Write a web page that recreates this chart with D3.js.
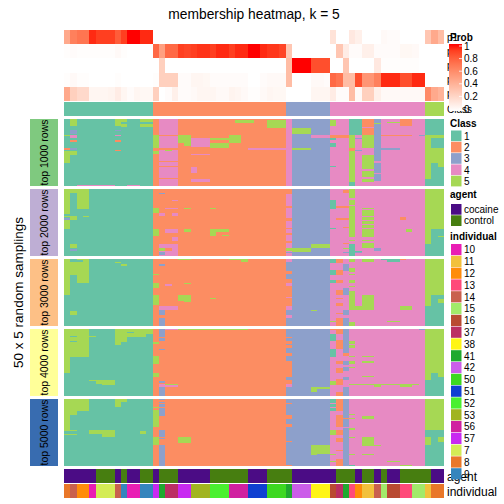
<!DOCTYPE html>
<html>
<head>
<meta charset="utf-8">
<script src="https://cdn.jsdelivr.net/npm/d3@7"></script>
<style>
body {margin: 0; background: #fff;}
text {font-family: "Liberation Sans", Arial, sans-serif; fill: #000;}
.cell {shape-rendering: crispEdges;}
</style>
</head>
<body>
<svg id="chart" width="504" height="504"></svg>
<script>
'use strict';

//Classes and their colours.
const classes = [1, 2, 3, 4, 5];
const classColors = ['#66C2A5', '#FC8D62', '#8DA0CB', '#E78AC3', '#A6D854'];

//Class of each of the 60 samples (columns, left to right).
const sampleClass = [
	1, 1, 1, 1, 1, 1, 1, 1, 1, 1, 1, 1, 1, 1,
	2, 2, 2, 2, 2, 2, 2, 2, 2, 2, 2, 2, 2, 2, 2, 2, 2, 2, 2, 2, 2,
	3, 3, 3, 3, 3, 3, 3,
	4, 4, 4, 4, 4, 4, 4, 4, 4, 4, 4, 4, 4, 4, 4,
	5, 5, 5
];

//Membership probability of each sample for class 1..5.
const prob1 = [
	0.45, 0.65, 0.7, 0.7, 0.95, 0.9, 0.9, 0.9, 0.8, 0.9, 1, 1, 0.95, 0.95,
	0, 0, 0, 0, 0, 0, 0, 0, 0, 0, 0, 0, 0, 0, 0, 0, 0, 0, 0, 0, 0,
	0, 0, 0, 0, 0, 0, 0,
	0.15, 0, 0, 0.12, 0.08, 0, 0, 0, 0.03, 0.02, 0.02, 0, 0, 0, 0,
	0.3, 0.45, 0.35
];
const prob2 = [
	0.01, 0.02, 0.01, 0.01, 0.01, 0.01, 0.01, 0.01, 0.03, 0.01, 0, 0, 0, 0,
	0.75, 0.5, 0.75, 0.75, 0.9, 0.88, 0.9, 0.93, 0.93, 0.9, 0.95, 0.95, 0.9, 0.95, 0.95, 1, 1, 0.95, 0.92, 0.92, 0.88,
	0.3, 0, 0, 0, 0, 0, 0,
	0, 0.3, 0.1, 0.02, 0.02, 0.08, 0.08, 0.02, 0.02, 0.02, 0.02, 0.04, 0.04, 0.03, 0,
	0, 0, 0
];
const prob3 = [
	0, 0, 0, 0, 0, 0, 0, 0, 0, 0, 0, 0, 0, 0,
	0, 0.25, 0, 0, 0, 0, 0, 0, 0, 0, 0, 0, 0, 0, 0, 0, 0, 0, 0, 0, 0,
	0.35, 1, 1, 1, 0.85, 0.85, 0.85,
	0, 0, 0.3, 0, 0, 0, 0, 0.12, 0.01, 0.01, 0.01, 0.01, 0.01, 0.01, 0,
	0, 0, 0
];
const prob4 = [
	0.01, 0.03, 0.01, 0.01, 0, 0, 0, 0, 0.01, 0, 0, 0, 0, 0,
	0.01, 0.25, 0.25, 0.25, 0.02, 0.02, 0.05, 0.05, 0.04, 0.02, 0.02, 0.02, 0.02, 0.02, 0.02, 0, 0, 0.02, 0.03, 0.03, 0.03,
	0.35, 0, 0, 0, 0.03, 0.03, 0.02,
	0.75, 0.7, 0.35, 0.35, 0.85, 0.55, 0.55, 0.65, 0.95, 0.95, 0.95, 0.85, 0.85, 0.95, 0.95,
	0, 0, 0
];
const prob5 = [
	0.45, 0.25, 0.2, 0.2, 0.05, 0.05, 0.05, 0.06, 0.1, 0.05, 0.02, 0.05, 0.04, 0.04,
	0.25, 0, 0.02, 0.08, 0.02, 0.02, 0.03, 0.05, 0.05, 0.05, 0.03, 0.03, 0.06, 0.05, 0.03, 0.01, 0.01, 0.03, 0.05, 0.04, 0.04,
	0, 0, 0, 0, 0.05, 0.05, 0.05,
	0.1, 0.02, 0.02, 0.35, 0.03, 0.25, 0.25, 0.08, 0.03, 0.03, 0.03, 0.03, 0.03, 0.03, 0.03,
	0.6, 0.45, 0.4
];
const probNames = ['p1', 'p2', 'p3', 'p4', 'p5'];

//Sample annotations.
const agentLevels = ['cocaine', 'control'];
const agentColors = ['#4B0C85', '#477E10'];
const agent = [
	'cocaine', 'cocaine', 'cocaine', 'cocaine', 'cocaine', 'control', 'control', 'control', 'cocaine', 'control',
	'cocaine', 'cocaine', 'control', 'control', 'cocaine', 'control', 'control', 'control', 'cocaine', 'cocaine',
	'cocaine', 'cocaine', 'cocaine', 'control', 'control', 'control', 'control', 'control', 'control', 'cocaine',
	'cocaine', 'cocaine', 'control', 'control', 'control', 'control', 'cocaine', 'cocaine', 'cocaine', 'cocaine',
	'cocaine', 'cocaine', 'cocaine', 'control', 'control', 'control', 'cocaine', 'control', 'control', 'cocaine',
	'control', 'cocaine', 'cocaine', 'control', 'control', 'control', 'control', 'control', 'cocaine', 'cocaine'
];
const individualLevels = ['10', '11', '12', '13', '14', '15', '16', '37', '38', '41',
	'42', '50', '51', '52', '53', '56', '57', '7', '8', '9'];
const individualColors = ['#E91EB4', '#F2C13C', '#FF8C0A', '#FF4A7A', '#C9604E', '#A2EA6A', '#B94A32', '#BB2F63', '#FFF515', '#1FA92F',
	'#CB5DE9', '#3DD821', '#0F40D1', '#4AF030', '#A1B421', '#D021A0', '#C829F1', '#D4EC55', '#E97729', '#3585BD'];
const individual = [
	'8', '14', '12', '12', '10', '7', '7', '7', '14', '9',
	'10', '10', '9', '9', '57', '41', '37', '37', '57', '57',
	'53', '53', '53', '52', '52', '52', '56', '56', '56', '51',
	'51', '51', '50', '50', '50', '41', '42', '42', '42', '38',
	'38', '38', '16', '37', '41', '13', '12', '11', '11', '14',
	'15', '16', '16', '13', '13', '15', '15', '11', '8', '8'
];

//Random samplings: 5 panels of 50 rows each.
//Each panel: the usual class of every column, then blocks [firstRow, lastRow, firstCol, lastCol, class] that differ.
const panelNames = ['top 1000 rows', 'top 2000 rows', 'top 3000 rows', 'top 4000 rows', 'top 5000 rows'];
const panelColors = ['#7FC97F', '#BEAED4', '#FDC086', '#FFFF99', '#386CB0'];
const panelBase = [
	'11111111111111 2 444 22222222222222222 4 333333 444 5 4 44 3 4444444 111',
	'11111111111111 2 222 22222222222222222 4 333333 444 5 4 44 4 4444444 555',
	'11111111111111 2 222 22222222222222222 2 333333 444 4 4 44 4 4444444 555',
	'11111111111111 2 222 22222222222222222 2 333333 444 4 4 44 4 4444444 555',
	'11111111111111 2 222 22222222222222222 3 333333 443 4 4 44 4 4444444 111'
];
const panel1 = [
	[12, 12, 0, 0, 5], [22, 22, 0, 0, 2], [24, 32, 0, 0, 5],
	[0, 4, 1, 1, 5], [8, 10, 1, 1, 3], [12, 13, 1, 1, 4], [16, 16, 1, 1, 2], [22, 22, 1, 1, 3], [24, 26, 1, 1, 5],
	[49, 49, 2, 7, 4],
	[0, 4, 8, 8, 5], [8, 8, 8, 8, 3], [12, 12, 8, 8, 4], [16, 16, 8, 8, 2], [23, 23, 8, 8, 2],
	[0, 1, 9, 9, 5], [4, 5, 9, 9, 5], [49, 49, 10, 11, 4], [0, 1, 12, 13, 5], [4, 5, 12, 13, 5],
	[12, 21, 14, 14, 5], [24, 25, 14, 14, 5],
	[12, 12, 15, 17, 2], [22, 22, 15, 17, 2], [31, 31, 15, 17, 2], [35, 35, 15, 17, 2], [44, 44, 15, 17, 2], [23, 23, 16, 16, 5],
	[12, 17, 18, 19, 5], [18, 19, 19, 19, 5],
	[14, 20, 20, 22, 4], [26, 26, 20, 22, 4], [36, 39, 20, 20, 4], [45, 46, 20, 22, 4],
	[14, 15, 23, 25, 5], [18, 21, 23, 25, 5],
	[12, 17, 26, 27, 5], [1, 2, 27, 29, 5], [1, 6, 32, 34, 5], [22, 22, 29, 34, 4],
	[7, 10, 36, 38, 5], [22, 22, 36, 38, 5], [12, 13, 39, 41, 4],
	[1, 4, 42, 42, 5], [12, 13, 42, 42, 2], [14, 15, 42, 42, 1], [18, 20, 42, 42, 1], [35, 35, 42, 42, 1],
	[12, 13, 43, 44, 2],
	[0, 11, 45, 46, 1], [22, 23, 45, 45, 2], [47, 49, 45, 45, 1],
	[14, 14, 46, 46, 3], [23, 23, 46, 46, 3],
	[0, 5, 47, 48, 2], [7, 11, 47, 48, 2], [12, 21, 47, 48, 5], [27, 36, 47, 48, 5], [39, 42, 47, 48, 5], [45, 46, 47, 48, 5],
	[3, 3, 49, 49, 5], [31, 32, 49, 49, 4], [40, 40, 49, 49, 4], [46, 49, 49, 49, 4],
	[0, 4, 53, 54, 2], [12, 12, 50, 54, 2], [22, 22, 50, 52, 3], [12, 12, 56, 56, 3], [2, 2, 51, 52, 5],
	[12, 44, 57, 57, 5], [12, 13, 58, 59, 5], [22, 32, 58, 59, 5], [33, 35, 59, 59, 5]
];
const panel2 = [
	[0, 18, 0, 0, 5], [20, 20, 0, 0, 5], [22, 22, 0, 0, 3], [23, 29, 0, 0, 5],
	[0, 2, 1, 1, 5], [20, 22, 1, 1, 5], [41, 43, 1, 1, 5], [45, 45, 1, 1, 3],
	[0, 14, 2, 3, 5], [20, 20, 3, 3, 5],
	[14, 17, 14, 14, 5], [30, 34, 14, 14, 5],
	[3, 3, 15, 15, 3], [18, 19, 15, 15, 4], [41, 49, 15, 17, 4], [44, 45, 15, 15, 5], [47, 48, 15, 15, 3], [44, 45, 16, 16, 2],
	[8, 8, 17, 17, 4], [14, 14, 16, 17, 4], [18, 19, 17, 17, 4], [30, 32, 16, 17, 4], [36, 38, 17, 17, 4],
	[14, 14, 19, 19, 5], [30, 31, 19, 19, 5], [14, 14, 23, 23, 5], [30, 31, 23, 25, 5], [32, 34, 23, 23, 5], [34, 34, 25, 25, 5],
	[0, 3, 35, 35, 2], [13, 13, 35, 35, 2], [22, 23, 35, 35, 2], [29, 29, 35, 35, 2], [33, 33, 35, 35, 2], [39, 39, 35, 35, 2],
	[44, 45, 35, 35, 5], [47, 47, 35, 35, 3],
	[44, 46, 36, 38, 5], [41, 43, 39, 41, 5],
	[8, 14, 42, 42, 1], [29, 29, 42, 42, 1],
	[1, 2, 44, 44, 2], [13, 13, 43, 44, 2], [22, 22, 43, 44, 2], [28, 28, 44, 44, 2], [40, 40, 44, 44, 2], [44, 44, 44, 44, 5], [47, 47, 44, 44, 3],
	[7, 7, 45, 45, 4], [12, 12, 45, 45, 4], [36, 40, 45, 45, 4], [41, 49, 45, 45, 1], [38, 38, 45, 45, 5],
	[46, 46, 46, 46, 1], [47, 47, 46, 46, 3],
	[14, 14, 47, 48, 5], [16, 19, 47, 48, 5], [21, 22, 47, 48, 5], [24, 25, 47, 48, 5], [27, 28, 47, 48, 5], [30, 35, 47, 48, 5],
	[38, 38, 47, 48, 5], [40, 40, 47, 48, 5], [41, 43, 47, 48, 5], [44, 45, 49, 49, 3],
	[21, 22, 53, 53, 2], [30, 31, 54, 54, 5],
	[30, 49, 58, 59, 1], [41, 49, 57, 57, 1], [35, 35, 59, 59, 5]
];
const panel3 = [
	[0, 26, 0, 0, 5], [2, 11, 1, 1, 5], [39, 41, 1, 1, 5], [0, 17, 2, 3, 5], [1, 1, 2, 2, 1],
	[2, 2, 8, 8, 5], [4, 4, 9, 9, 5],
	[11, 11, 14, 14, 5], [18, 21, 14, 14, 5], [27, 33, 14, 14, 5],
	[4, 4, 15, 15, 3], [38, 41, 15, 15, 3], [44, 49, 15, 15, 3], [35, 37, 15, 17, 4], [19, 19, 16, 16, 4],
	[0, 0, 18, 19, 5], [27, 30, 18, 19, 5], [31, 31, 19, 19, 5], [18, 18, 19, 19, 5], [29, 29, 23, 23, 5],
	[0, 1, 28, 28, 5], [0, 0, 26, 27, 5],
	[0, 1, 35, 35, 4], [2, 8, 35, 35, 3], [11, 14, 35, 35, 3], [18, 19, 35, 35, 4], [28, 28, 35, 35, 4],
	[35, 37, 35, 35, 4], [38, 41, 35, 35, 3], [42, 43, 35, 35, 4], [44, 49, 35, 35, 3],
	[38, 38, 39, 39, 5],
	[0, 2, 42, 42, 1], [8, 11, 42, 42, 1], [16, 17, 42, 42, 1], [46, 46, 42, 42, 5],
	[0, 2, 43, 43, 2], [8, 11, 43, 43, 2], [16, 17, 43, 43, 2], [23, 26, 43, 43, 2], [29, 29, 43, 43, 2],
	[33, 34, 43, 43, 2], [40, 40, 43, 43, 2], [44, 49, 43, 43, 2],
	[4, 8, 44, 44, 3], [22, 26, 44, 44, 3], [38, 41, 44, 44, 3], [44, 49, 44, 44, 3],
	[0, 1, 45, 45, 5], [7, 9, 45, 45, 5], [11, 11, 45, 45, 5], [16, 17, 45, 45, 5], [20, 20, 45, 45, 5],
	[24, 37, 45, 45, 5], [47, 49, 45, 45, 5],
	[35, 37, 46, 46, 5], [0, 1, 47, 48, 5], [27, 37, 47, 48, 5],
	[0, 0, 50, 50, 1], [0, 1, 51, 52, 1], [0, 0, 53, 53, 2], [35, 37, 53, 54, 5], [46, 46, 51, 52, 5],
	[27, 49, 58, 59, 1], [35, 49, 57, 57, 1], [30, 32, 59, 59, 5]
];
const panel4 = [
	[0, 32, 0, 0, 5], [0, 20, 1, 3, 5], [5, 5, 1, 1, 1], [9, 9, 1, 1, 1],
	[5, 5, 4, 4, 5], [38, 38, 4, 4, 5], [38, 40, 5, 5, 5], [38, 41, 6, 7, 5],
	[0, 11, 8, 8, 5], [0, 9, 9, 9, 5], [0, 5, 10, 10, 5], [2, 2, 10, 10, 1], [0, 5, 11, 12, 5], [0, 3, 13, 13, 5],
	[10, 10, 14, 14, 5], [20, 25, 14, 14, 5], [33, 35, 14, 14, 5],
	[0, 5, 15, 15, 3], [7, 8, 15, 15, 3], [15, 15, 15, 15, 3], [39, 39, 15, 15, 3], [43, 49, 15, 15, 3],
	[0, 0, 16, 17, 4], [41, 42, 15, 17, 4], [41, 41, 16, 17, 5],
	[0, 0, 18, 22, 5], [0, 0, 23, 28, 5],
	[0, 5, 35, 35, 3], [7, 8, 35, 35, 3], [11, 11, 35, 35, 3], [14, 17, 35, 35, 3], [20, 23, 35, 35, 3],
	[36, 37, 35, 35, 3], [41, 42, 35, 35, 4], [43, 49, 35, 35, 3],
	[43, 44, 39, 41, 5], [45, 46, 39, 39, 5],
	[0, 0, 42, 42, 2], [4, 8, 42, 42, 1], [15, 20, 42, 42, 1], [39, 41, 42, 42, 5],
	[0, 3, 43, 43, 2], [8, 14, 43, 43, 2], [24, 25, 43, 43, 2], [29, 32, 43, 43, 2], [37, 41, 43, 43, 2], [47, 49, 43, 43, 2],
	[0, 17, 44, 44, 3], [18, 19, 44, 44, 2], [24, 26, 44, 44, 3], [28, 30, 44, 44, 3], [36, 37, 44, 44, 3], [43, 49, 44, 44, 3],
	[9, 10, 45, 45, 5], [12, 13, 45, 45, 5], [20, 20, 45, 45, 5], [24, 25, 45, 45, 5], [28, 28, 45, 45, 5], [41, 41, 45, 55, 5],
	[20, 20, 47, 48, 5], [24, 24, 47, 48, 5], [35, 35, 47, 48, 5], [42, 42, 49, 49, 5], [42, 42, 53, 54, 5], [0, 0, 56, 56, 3],
	[38, 49, 57, 57, 1], [33, 49, 58, 58, 1], [36, 49, 59, 59, 1]
];
const panel5 = [
	[0, 23, 0, 0, 5], [26, 26, 0, 0, 5], [0, 11, 1, 1, 5], [23, 23, 1, 1, 5], [26, 26, 1, 1, 5], [0, 8, 2, 3, 5],
	[23, 25, 4, 5, 5], [23, 27, 6, 7, 5], [0, 5, 8, 8, 5], [0, 1, 9, 9, 5], [24, 25, 12, 12, 5],
	[6, 6, 14, 14, 5], [8, 20, 14, 14, 5], [28, 33, 14, 14, 5],
	[0, 0, 15, 15, 3], [2, 2, 15, 15, 3], [4, 5, 15, 15, 3], [7, 12, 15, 15, 3], [23, 27, 15, 15, 3], [29, 29, 15, 15, 3], [34, 49, 15, 15, 3],
	[28, 32, 18, 19, 5],
	[3, 3, 35, 35, 2], [12, 14, 35, 35, 2], [19, 20, 35, 35, 2], [31, 31, 35, 35, 2], [49, 49, 35, 35, 2],
	[34, 40, 39, 41, 5], [41, 41, 39, 39, 5],
	[0, 2, 42, 42, 1], [4, 5, 42, 42, 1], [7, 8, 42, 42, 1], [23, 26, 42, 42, 5], [41, 41, 42, 42, 5], [46, 46, 42, 42, 5],
	[0, 8, 43, 43, 2], [12, 20, 43, 43, 2], [23, 26, 43, 43, 2], [29, 31, 43, 43, 2], [38, 38, 43, 43, 2], [45, 49, 43, 43, 2],
	[14, 14, 44, 44, 2], [21, 21, 44, 44, 4],
	[11, 11, 45, 45, 5], [14, 14, 45, 45, 5], [22, 22, 45, 45, 5], [28, 28, 45, 45, 5], [41, 41, 45, 45, 5], [49, 49, 45, 45, 1],
	[13, 14, 47, 48, 5], [28, 34, 47, 48, 5], [41, 41, 47, 48, 5], [34, 34, 49, 49, 5], [46, 46, 51, 52, 5], [49, 49, 53, 54, 5],
	[0, 22, 57, 59, 5], [28, 33, 57, 57, 5], [28, 31, 59, 59, 5]
];
const panelPatches = [panel1, panel2, panel3, panel4, panel5];
const nSampling = 50;

const svg = d3.select('#chart');
const nCol = sampleClass.length;

//Column scale shared by every strip of the heatmap.
const x = d3.scaleBand().domain(d3.range(nCol)).range([64, 444]);
const cw = x.bandwidth();
const classColor = d3.scaleOrdinal().domain(classes).range(classColors);
const agentColor = d3.scaleOrdinal().domain(agentLevels).range(agentColors);
const indColor = d3.scaleOrdinal().domain(individualLevels).range(individualColors);
const probColor = d3.scaleLinear().domain([0, 1]).range(['#ffffff', '#ff0000']).interpolate(d3.interpolateLab);

//Title.
svg.append('text')
	.attr('x', (x.range()[0] + x.range()[1]) / 2)
	.attr('y', 19)
	.attr('text-anchor', 'middle')
	.style('font-size', '13.8px')
	.text('membership heatmap, k = 5');

//Row labels of the probability strip sit under the legend, as in the original.
const yProb = d3.scaleBand().domain(d3.range(probNames.length)).range([30, 101]);
svg.append('g').selectAll('text')
	.data(probNames)
	.join('text')
	.attr('x', 447)
	.attr('y', (d, i) => yProb(i) + yProb.bandwidth() / 2)
	.attr('dy', '0.35em')
	.style('font-size', '10px')
	.text(d => d);

//Probability heatmap.
[prob1, prob2, prob3, prob4, prob5].forEach((row, r) => {
	svg.append('g').selectAll('rect')
		.data(row)
		.join('rect')
		.attr('class', 'cell')
		.attr('x', (d, i) => x(i))
		.attr('y', yProb(r))
		.attr('width', (d, i) => i === nCol - 1 ? cw : cw + 0.5)
		.attr('height', yProb.bandwidth() + (r === 4 ? 0 : 0.5))
		.attr('fill', d => probColor(d));
});

//Simple one-row annotation strip.
function annotationStrip(values, colorScale, top, h) {
	svg.append('g').selectAll('rect')
		.data(values)
		.join('rect')
		.attr('class', 'cell')
		.attr('x', (d, i) => x(i))
		.attr('y', top)
		.attr('width', (d, i) => i === nCol - 1 ? cw : cw + 0.5)
		.attr('height', h)
		.attr('fill', d => colorScale(d));
}
svg.append('text').attr('x', 447).attr('y', 109).attr('dy', '0.35em')
	.style('font-size', '10px').text('Class');
annotationStrip(sampleClass, classColor, 102, 14);

//Build a panel matrix from its base row and blocks.
function buildPanel(base, patches) {
	const b = base.replace(/\s/g, '').split('').map(Number);
	const m = d3.range(nSampling).map(() => b.slice());
	patches.forEach(([r0, r1, c0, c1, k]) => {
		for (let r = r0; r <= r1; r++) {
			for (let c = c0; c <= c1; c++) m[r][c] = k;
		}
	});
	return m;
}

const panelTop0 = 119;
const panelH = 67;
const panelGap = 3;
panelBase.forEach((base, pi) => {
	const m = buildPanel(base, panelPatches[pi]);
	const top = panelTop0 + pi * (panelH + panelGap);
	const y = d3.scaleBand().domain(d3.range(nSampling)).range([top, top + panelH]);
	//Merge neighbouring cells of the same class in a row into one rect.
	const runs = [];
	m.forEach((row, r) => {
		let start = 0;
		for (let c = 1; c <= row.length; c++) {
			if (c === row.length || row[c] !== row[start]) {
				runs.push({r: r, c0: start, c1: c - 1, k: row[start]});
				start = c;
			}
		}
	});
	svg.append('g').selectAll('rect')
		.data(runs)
		.join('rect')
		.attr('class', 'cell')
		.attr('x', d => x(d.c0))
		.attr('y', d => y(d.r))
		.attr('width', d => x(d.c1) + cw - x(d.c0) + (d.c1 === nCol - 1 ? 0 : 0.5))
		.attr('height', d => y.bandwidth() + (d.r === nSampling - 1 ? 0 : 0.8))
		.attr('fill', d => classColor(d.k));

	//Coloured label box on the left.
	svg.append('rect')
		.attr('x', 30).attr('y', top)
		.attr('width', 28).attr('height', panelH)
		.attr('fill', panelColors[pi]);
	svg.append('text')
		.attr('transform', `translate(44, ${top + panelH / 2}) rotate(-90)`)
		.attr('text-anchor', 'middle')
		.attr('dy', '0.35em')
		.style('font-size', '10.5px')
		.text(panelNames[pi]);
});

svg.append('text')
	.attr('transform', `translate(23, ${panelTop0 + (5 * panelH + 4 * panelGap) / 2}) rotate(-90)`)
	.attr('text-anchor', 'middle')
	.style('font-size', '13.5px')
	.text('50 x 5 random samplings');

//Bottom annotations.
annotationStrip(agent, agentColor, 469, 14);
annotationStrip(individual, indColor, 484, 14);
svg.append('text').attr('x', 447).attr('y', 477).attr('dy', '0.35em')
	.style('font-size', '12px').text('agent');
svg.append('text').attr('x', 447).attr('y', 492).attr('dy', '0.35em')
	.style('font-size', '12px').text('individual');

//Legends.
const lx = 451;
const legend = svg.append('g');

//Prob colour bar.
const grad = svg.append('defs').append('linearGradient')
	.attr('id', 'probGrad').attr('x1', 0).attr('y1', 1).attr('x2', 0).attr('y2', 0);
d3.range(0, 1.001, 0.1).forEach(t => {
	grad.append('stop').attr('offset', t).attr('stop-color', probColor(t));
});
legend.append('text').attr('x', lx - 1).attr('y', 40.5)
	.style('font-size', '10px').style('font-weight', 'bold').text('Prob');
legend.append('rect').attr('x', lx - 2).attr('y', 44).attr('width', 13).attr('height', 67)
	.attr('fill', 'url(#probGrad)');
const probTick = d3.scaleLinear().domain([0, 1]).range([109, 46]);
const probTicks = [0, 0.2, 0.4, 0.6, 0.8, 1];
legend.append('g').selectAll('line')
	.data(probTicks)
	.join('line')
	.attr('x1', lx + 8).attr('x2', lx + 11)
	.attr('y1', d => probTick(d)).attr('y2', d => probTick(d))
	.attr('stroke', '#fff').attr('stroke-width', 0.8);
legend.append('g').selectAll('text')
	.data(probTicks)
	.join('text')
	.attr('x', lx + 13)
	.attr('y', d => probTick(d))
	.attr('dy', '0.35em')
	.style('font-size', '10px')
	.text(d => d);

//Discrete legends.
function discreteLegend(title, labels, colorScale, titleY, boxY, step) {
	legend.append('text').attr('x', lx - 1).attr('y', titleY)
		.style('font-size', '10px').style('font-weight', 'bold').text(title);
	const g = legend.append('g');
	g.selectAll('rect')
		.data(labels)
		.join('rect')
		.attr('x', lx)
		.attr('y', (d, i) => boxY + i * step)
		.attr('width', 10.5)
		.attr('height', step - 0.6)
		.attr('fill', d => colorScale(d));
	g.selectAll('text')
		.data(labels)
		.join('text')
		.attr('x', lx + 13)
		.attr('y', (d, i) => boxY + i * step + step / 2)
		.attr('dy', '0.35em')
		.style('font-size', '10px')
		.text(d => d);
}
discreteLegend('Class', classes, classColor, 127, 130.5, 11.3);
discreteLegend('agent', agentLevels, agentColor, 198, 204, 11.3);
discreteLegend('individual', individualLevels, indColor, 240, 244, 11.8);
</script>
</body>
</html>
